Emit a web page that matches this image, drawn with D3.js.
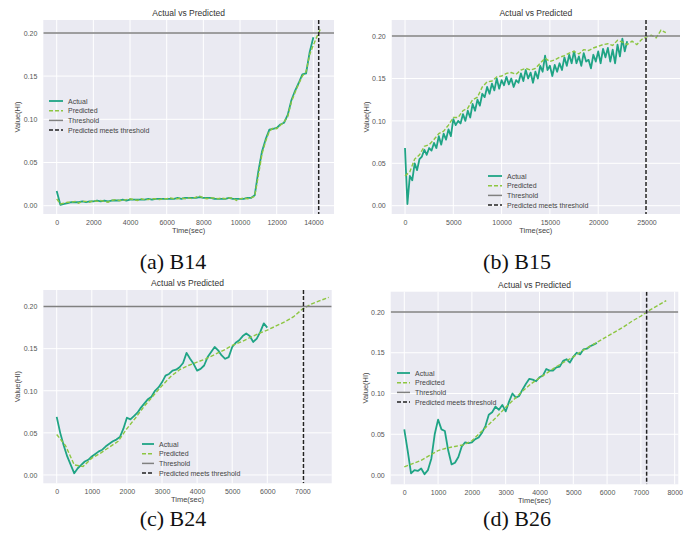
<!DOCTYPE html>
<html>
<head>
<meta charset="utf-8">
<script src="https://cdn.jsdelivr.net/npm/d3@7"></script>
<style>
  html, body { margin: 0; padding: 0; background: #ffffff; }
  svg { display: block; }
</style>
</head>
<body>
<svg id="chart" width="687" height="548"></svg>
<script>
// ---------------- DATA ----------------
const threshold = 0.2;
const legendLabels = ["Actual", "Predicted", "Threshold", "Predicted meets threshold"];
const panelTitle = "Actual vs Predicted";
const captions = ["(a) B14", "(b) B15", "(c) B24", "(d) B26"];

// B14
const b14Step = 200;
const b14Actual = [0.017,0.001,0.002,0.003,0.004,0.004,0.004,0.005,0.004,0.005,
  0.005,0.006,0.005,0.006,0.005,0.006,0.006,0.006,0.007,0.006,
  0.007,0.007,0.007,0.007,0.007,0.008,0.007,0.008,0.008,0.008,
  0.008,0.008,0.008,0.009,0.008,0.009,0.009,0.009,0.009,0.010,
  0.009,0.009,0.009,0.008,0.008,0.008,0.008,0.009,0.008,0.008,
  0.008,0.008,0.009,0.009,0.012,0.040,0.063,0.077,0.088,0.089,
  0.090,0.094,0.096,0.105,0.122,0.133,0.142,0.152,0.153,0.178,0.195];
const b14Pred = [0.008,0.002,0.003,0.004,0.004,0.005,0.003,0.005,0.005,0.004,
  0.006,0.005,0.006,0.005,0.004,0.006,0.007,0.006,0.006,0.007,
  0.008,0.007,0.006,0.008,0.007,0.007,0.008,0.008,0.007,0.008,
  0.008,0.009,0.008,0.008,0.009,0.008,0.009,0.008,0.010,0.011,
  0.009,0.008,0.009,0.009,0.008,0.009,0.008,0.009,0.009,0.006,
  0.008,0.009,0.008,0.009,0.011,0.035,0.060,0.075,0.086,0.090,
  0.089,0.093,0.097,0.103,0.120,0.131,0.141,0.150,0.155,0.175,
  0.186,0.196,0.205];

// B15
const b15Step = 250;
const b15Actual = [0.068,0.002,0.035,0.030,0.050,0.042,0.055,0.058,0.066,0.060,
  0.068,0.065,0.074,0.068,0.082,0.072,0.085,0.078,0.090,0.082,
  0.102,0.095,0.100,0.097,0.108,0.100,0.112,0.104,0.120,0.112,
  0.125,0.118,0.132,0.128,0.140,0.132,0.144,0.136,0.150,0.138,
  0.148,0.142,0.152,0.143,0.150,0.140,0.148,0.145,0.156,0.147,
  0.160,0.150,0.157,0.145,0.158,0.150,0.165,0.158,0.177,0.160,
  0.165,0.153,0.166,0.158,0.168,0.160,0.175,0.165,0.178,0.168,
  0.182,0.168,0.176,0.165,0.180,0.170,0.172,0.162,0.178,0.170,
  0.182,0.168,0.185,0.175,0.186,0.170,0.184,0.168,0.190,0.176,
  0.197,0.182,0.194];
const b15PredStep = 500;
const b15Pred = [0.035,0.040,0.055,0.060,0.070,0.072,0.078,0.085,0.088,0.095,
  0.104,0.104,0.112,0.115,0.125,0.128,0.140,0.146,0.147,0.152,
  0.153,0.156,0.157,0.155,0.160,0.162,0.160,0.162,0.168,0.174,
  0.170,0.172,0.175,0.177,0.180,0.182,0.179,0.184,0.183,0.186,
  0.188,0.190,0.191,0.189,0.195,0.193,0.190,0.194,0.190,0.196,
  0.199,0.201,0.198,0.207,0.204];

// B24
const b24Step = 100;
const b24Actual = [0.069,0.050,0.035,0.022,0.012,0.002,0.008,0.012,0.016,0.018,
  0.022,0.025,0.028,0.030,0.034,0.037,0.040,0.042,0.045,0.055,
  0.068,0.066,0.070,0.074,0.080,0.085,0.090,0.093,0.100,0.104,
  0.110,0.118,0.120,0.124,0.125,0.128,0.133,0.145,0.138,0.132,
  0.124,0.126,0.130,0.140,0.146,0.152,0.148,0.142,0.138,0.140,
  0.152,0.157,0.160,0.165,0.168,0.165,0.158,0.162,0.170,0.180,0.175];
const b24PredStep = 250;
const b24Pred = [0.048,0.035,0.012,0.010,0.020,0.026,0.033,0.040,0.055,0.068,
  0.082,0.094,0.106,0.117,0.125,0.130,0.134,0.138,0.143,0.148,
  0.154,0.158,0.163,0.168,0.172,0.177,0.182,0.188,0.197,0.203,
  0.207,0.211];

// B26
const b26Step = 100;
const b26Actual = [0.056,0.030,0.002,0.006,0.005,0.008,0.001,0.006,0.020,0.050,
  0.068,0.056,0.054,0.030,0.013,0.015,0.022,0.035,0.040,0.039,
  0.040,0.044,0.046,0.052,0.060,0.074,0.077,0.084,0.080,0.086,
  0.078,0.090,0.100,0.095,0.097,0.105,0.112,0.118,0.117,0.115,
  0.120,0.122,0.130,0.128,0.128,0.132,0.133,0.140,0.142,0.138,
  0.145,0.150,0.148,0.154,0.155,0.158,0.160,0.162];
const b26PredStep = 250;
const b26Pred = [0.010,0.014,0.018,0.024,0.030,0.033,0.035,0.037,0.042,0.052,
  0.062,0.072,0.083,0.093,0.103,0.112,0.119,0.126,0.133,0.139,
  0.145,0.152,0.158,0.164,0.170,0.176,0.182,0.189,0.195,0.202,
  0.208,0.214];

const crossTimes = [14290, 24950, 7030, 7170];

// --------------- LAYOUT / STYLE ---------------
const colActual = "#1fa485";
const colPred = "#8dc641";
const colThresh = "#808080";
const font = "'Liberation Sans', Arial, sans-serif";

const panels = [
  { actual: b14Actual, aStep: b14Step, pred: b14Pred, pStep: b14Step, cross: crossTimes[0],
    xr: [43.3, 334], yr: [214, 20], xd: [-731, 15125], yd: [-0.0096, 0.2149],
    xticks: [0,2000,4000,6000,8000,10000,12000,14000],
    legend: { x: 49, y: 101, sw: 14 }, caption: captions[0], capX: 173, capY: 262 },
  { actual: b15Actual, aStep: b15Step, pred: b15Pred, pStep: b15PredStep, cross: crossTimes[1],
    xr: [391.7, 680], yr: [214, 20], xd: [-1377, 28468], yd: [-0.0098, 0.219],
    xticks: [0,5000,10000,15000,20000,25000],
    legend: { x: 488, y: 176, sw: 14 }, caption: captions[1], capX: 517, capY: 262 },
  { actual: b24Actual, aStep: b24Step, pred: b24Pred, pStep: b24PredStep, cross: crossTimes[2],
    xr: [43.3, 331.7], yr: [483.3, 290], xd: [-382, 7835], yd: [-0.0099, 0.2197],
    xticks: [0,1000,2000,3000,4000,5000,6000,7000],
    legend: { x: 142, y: 444, sw: 12 }, caption: captions[2], capX: 173, capY: 519 },
  { actual: b26Actual, aStep: b26Step, pred: b26Pred, pStep: b26PredStep, cross: crossTimes[3],
    xr: [390.7, 678.3], yr: [484.3, 291.7], xd: [-402, 8107], yd: [-0.0114, 0.2249],
    xticks: [0,1000,2000,3000,4000,5000,6000,7000,8000],
    legend: { x: 397, y: 373, sw: 13 }, caption: captions[3], capX: 517, capY: 519 }
];
const yticks = [0, 0.05, 0.10, 0.15, 0.20];

const svg = d3.select("#chart");

panels.forEach(p => {
  const x = d3.scaleLinear().domain(p.xd).range(p.xr);
  const y = d3.scaleLinear().domain(p.yd).range(p.yr);
  const g = svg.append("g");
  const x0 = p.xr[0], x1 = p.xr[1], yT = p.yr[1], yB = p.yr[0];

  g.append("rect").attr("x", x0).attr("y", yT).attr("width", x1 - x0).attr("height", yB - yT)
    .attr("fill", "#eaeaf2");

  const clipId = "clip" + Math.round(x0) + Math.round(yT);
  svg.append("clipPath").attr("id", clipId).append("rect")
    .attr("x", x0).attr("y", yT).attr("width", x1 - x0).attr("height", yB - yT);

  // grid
  const grid = g.append("g");
  grid.selectAll("line.vx").data(p.xticks).join("line")
    .attr("x1", d => x(d)).attr("x2", d => x(d)).attr("y1", yT).attr("y2", yB)
    .attr("stroke", "#ffffff").attr("stroke-width", 1);
  grid.selectAll("line.hy").data(yticks).join("line")
    .attr("x1", x0).attr("x2", x1).attr("y1", d => y(d)).attr("y2", d => y(d))
    .attr("stroke", "#ffffff").attr("stroke-width", 1);

  // axes (tick labels only)
  const xAxis = d3.axisBottom(x).tickValues(p.xticks).tickSize(0).tickPadding(6).tickFormat(d3.format("d"));
  const gx = g.append("g").attr("transform", `translate(0,${yB})`).call(xAxis);
  const yAxis = d3.axisLeft(y).tickValues(yticks).tickSize(0).tickPadding(6).tickFormat(d3.format(".2f"));
  const gy = g.append("g").attr("transform", `translate(${x0},0)`).call(yAxis);
  [gx, gy].forEach(a => {
    a.select(".domain").remove();
    a.selectAll("text").attr("font-family", font).attr("font-size", 7).attr("fill", "#555");
  });

  const plot = g.append("g").attr("clip-path", `url(#${clipId})`);
  const line = d3.line().x(d => x(d[0])).y(d => y(d[1]));

  const aData = p.actual.map((v, i) => [i * p.aStep, v]);
  const pData = p.pred.map((v, i) => [i * p.pStep, v]);

  plot.append("path").datum(aData).attr("d", line).attr("fill", "none")
    .attr("stroke", colActual).attr("stroke-width", 1.8).attr("stroke-linejoin", "round");
  plot.append("path").datum(pData).attr("d", line).attr("fill", "none")
    .attr("stroke", colPred).attr("stroke-width", 1.4).attr("stroke-dasharray", "4,2");
  plot.append("line").attr("x1", x0).attr("x2", x1).attr("y1", y(threshold)).attr("y2", y(threshold))
    .attr("stroke", colThresh).attr("stroke-width", 1.5);
  plot.append("line").attr("x1", x(p.cross)).attr("x2", x(p.cross)).attr("y1", yT).attr("y2", yB)
    .attr("stroke", "#222").attr("stroke-width", 1.5).attr("stroke-dasharray", "4,2");

  // title and labels
  const cx = (x0 + x1) / 2;
  g.append("text").attr("x", cx).attr("y", yT - 4).attr("text-anchor", "middle")
    .attr("font-family", font).attr("font-size", 8.5).attr("fill", "#333").text(panelTitle);
  g.append("text").attr("x", cx).attr("y", yB + 19).attr("text-anchor", "middle")
    .attr("font-family", font).attr("font-size", 7.5).attr("fill", "#444").text("Time(sec)");
  g.append("text").attr("transform", `translate(${x0 - 23},${(yT + yB) / 2}) rotate(-90)`)
    .attr("text-anchor", "middle").attr("font-family", font).attr("font-size", 7.5)
    .attr("fill", "#444").text("Value(HI)");

  // legend
  const lg = g.append("g").attr("transform", `translate(${p.legend.x},${p.legend.y})`);
  const styles = [
    { c: colActual, w: 1.8, dash: null },
    { c: colPred, w: 1.5, dash: "4,2" },
    { c: colThresh, w: 1.5, dash: null },
    { c: "#222", w: 1.5, dash: "4,2" }
  ];
  legendLabels.forEach((lab, i) => {
    const row = lg.append("g").attr("transform", `translate(0,${i * 9.7})`);
    row.append("line").attr("x1", 0).attr("x2", p.legend.sw).attr("y1", 0).attr("y2", 0)
      .attr("stroke", styles[i].c).attr("stroke-width", styles[i].w)
      .attr("stroke-dasharray", styles[i].dash);
    row.append("text").attr("x", p.legend.sw + 5).attr("y", 2.5)
      .attr("font-family", font).attr("font-size", 7).attr("fill", "#444").text(lab);
  });

  // caption
  svg.append("text").attr("x", p.capX).attr("y", p.capY + 7).attr("text-anchor", "middle")
    .attr("font-family", "'Liberation Serif', 'Times New Roman', serif").attr("font-size", 22)
    .attr("fill", "#111").text(p.caption);
});
</script>
</body>
</html>
